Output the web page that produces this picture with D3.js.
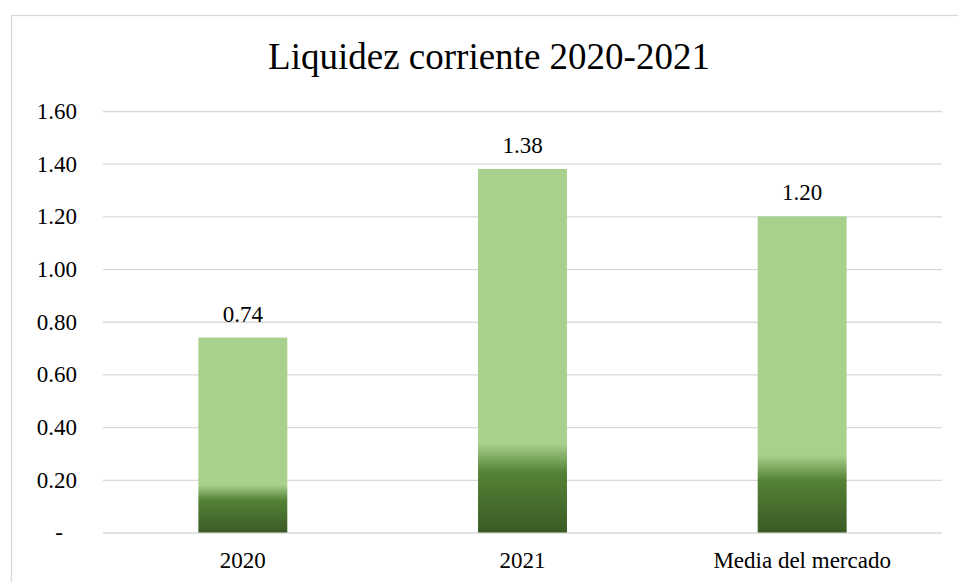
<!DOCTYPE html>
<html lang="es">

<head>
    <meta charset="UTF-8">
    <title>Liquidez corriente 2020-2021</title>
    <style>
        body { margin: 0; background: #fff; }
        svg text { font-family: "Liberation Serif", "Times New Roman", serif !important; fill: #000; }
    </style>
</head>

<body>
    <script src="https://d3js.org/d3.v7.min.js"></script>
    <script>
        // datos
        var categories = ["2020", "2021", "Media del mercado"];
        var values = [0.74, 1.38, 1.20];
        var yTicks = [0, 0.2, 0.4, 0.6, 0.8, 1.0, 1.2, 1.4, 1.6];
        var title = "Liquidez corriente 2020-2021";

        var width = 958;
        var height = 582;
        // área del gráfico (ojo: "top" choca con window.top)
        var plotLeft = 103, plotRight = 942, plotTop = 111, plotBottom = 532.5;
        var fontSize = 23;

        var svg = d3.select('body').append('svg').attr('width', width).attr('height', height);

        // marco del gráfico (se sale por la derecha y por abajo)
        svg.append('rect')
            .attr('x', 11.5).attr('y', 15.5)
            .attr('width', 1000).attr('height', 1000)
            .attr('fill', 'none').attr('stroke', '#d9d9d9').attr('stroke-width', 1.3);

        // degradado de las barras
        var grad = svg.append('defs').append('linearGradient')
            .attr('id', 'barGrad').attr('x1', 0).attr('y1', 0).attr('x2', 0).attr('y2', 1);
        grad.append('stop').attr('offset', '0%').attr('stop-color', '#a9d18e');
        grad.append('stop').attr('offset', '75.5%').attr('stop-color', '#a9d18e');
        grad.append('stop').attr('offset', '83.5%').attr('stop-color', '#548235');
        grad.append('stop').attr('offset', '100%').attr('stop-color', '#3b5a25');

        // escalas
        var x = d3.scaleBand().domain(categories).range([plotLeft, plotRight])
            .paddingInner(0.682).paddingOuter(0.341);
        var y = d3.scaleLinear().domain([0, 1.6]).range([plotBottom, plotTop]);

        // eje y + líneas de cuadrícula
        var yAxis = d3.axisLeft(y)
            .tickValues(yTicks)
            .tickSize(-(plotRight - plotLeft))
            .tickPadding(26)
            .tickFormat(function (d) { return d === 0 ? '-' : d3.format('.2f')(d); });

        var gy = svg.append('g').attr('transform', 'translate(' + plotLeft + ',0)').call(yAxis);
        gy.select('.domain').remove();
        gy.selectAll('line').attr('stroke', '#d9d9d9').attr('stroke-width', 1.3);
        gy.selectAll('text')
            .attr('font-size', fontSize)
            .attr('dx', function (d) { return d === 0 ? -14 : 0; });

        // barras
        svg.selectAll('rect.bar').data(values).enter().append('rect')
            .attr('class', 'bar')
            .attr('x', function (d, i) { return x(categories[i]); })
            .attr('y', function (d) { return y(d); })
            .attr('width', x.bandwidth())
            .attr('height', function (d) { return y(0) - y(d); })
            .attr('fill', 'url(#barGrad)');

        // etiquetas de datos
        svg.selectAll('text.val').data(values).enter().append('text')
            .attr('class', 'val')
            .attr('x', function (d, i) { return x(categories[i]) + x.bandwidth() / 2; })
            .attr('y', function (d) { return y(d) - 16; })
            .attr('text-anchor', 'middle')
            .attr('font-size', fontSize)
            .text(function (d) { return d3.format('.2f')(d); });

        // eje x
        var gx = svg.append('g').attr('transform', 'translate(0,' + plotBottom + ')')
            .call(d3.axisBottom(x).tickSize(0).tickPadding(19));
        gx.select('.domain').remove();
        gx.selectAll('text').attr('font-size', fontSize);

        // título
        svg.append('text')
            .attr('x', 489).attr('y', 69)
            .attr('text-anchor', 'middle')
            .attr('font-size', 37)
            .text(title);
    </script>
</body>

</html>
